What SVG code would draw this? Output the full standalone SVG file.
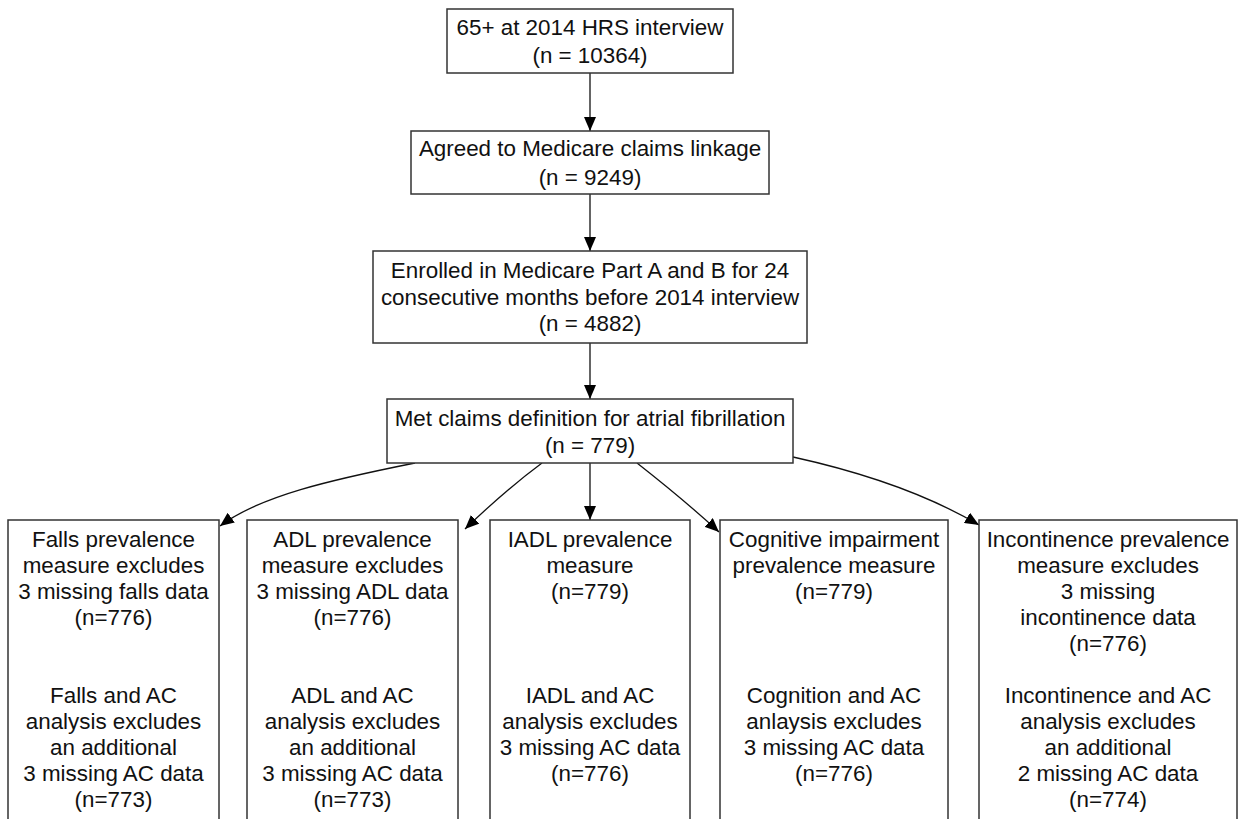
<svg xmlns="http://www.w3.org/2000/svg" width="1238" height="819" viewBox="0 0 1238 819">
<style>
.box{fill:#fff;stroke:#333;stroke-width:1.5}
text{font-family:"Liberation Sans",Arial,sans-serif;font-size:22.4px;fill:#111;text-anchor:middle}
.edge{fill:none;stroke:#111;stroke-width:1.3}
</style>
<defs>
<marker id="ahb" viewBox="0 0 14 12" refX="14" refY="6" markerWidth="14" markerHeight="12" markerUnits="userSpaceOnUse" orient="auto">
<path d="M0,0 L14,6 L0,12 z" fill="#000"/>
</marker>
</defs>
<rect width="1238" height="819" fill="#fff"/>
<g id="connectors">
<path class="edge" d="M590,73 L590,131" marker-end="url(#ahb)"/>
<path class="edge" d="M590,194 L590,251" marker-end="url(#ahb)"/>
<path class="edge" d="M590,343 L590,399" marker-end="url(#ahb)"/>
<path class="edge" d="M590,463 L590,520" marker-end="url(#ahb)"/>
<path class="edge" d="M415,463 C330,480 260,496 220,526" marker-end="url(#ahb)"/>
<path class="edge" d="M542,463 C515,483 490,505 465,529" marker-end="url(#ahb)"/>
<path class="edge" d="M637,463 C665,485 693,508 719,532" marker-end="url(#ahb)"/>
<path class="edge" d="M793,457 C870,474 930,496 979,525" marker-end="url(#ahb)"/>
</g>
<g id="n1">
<rect class="box" x="447" y="9" width="286" height="64"/>
<text x="590" y="35">65+ at 2014 HRS interview</text>
<text x="590" y="63">(n = 10364)</text>
</g>
<g id="n2">
<rect class="box" x="411" y="131" width="358" height="63"/>
<text x="590" y="156">Agreed to Medicare claims linkage</text>
<text x="590" y="185">(n = 9249)</text>
</g>
<g id="n3">
<rect class="box" x="373" y="251" width="434" height="92"/>
<text x="590" y="278">Enrolled in Medicare Part A and B for 24</text>
<text x="590" y="305">consecutive months before 2014 interview</text>
<text x="590" y="331">(n = 4882)</text>
</g>
<g id="n4">
<rect class="box" x="387" y="399" width="406" height="64"/>
<text x="590" y="426">Met claims definition for atrial fibrillation</text>
<text x="590" y="453">(n = 779)</text>
</g>
<g id="n5">
<rect class="box" x="8" y="520" width="211" height="320"/>
<text x="113.5" y="547">Falls prevalence</text>
<text x="113.5" y="573">measure excludes</text>
<text x="113.5" y="599">3 missing falls data</text>
<text x="113.5" y="625">(n=776)</text>
<text x="113.5" y="703">Falls and AC</text>
<text x="113.5" y="729">analysis excludes</text>
<text x="113.5" y="755">an additional</text>
<text x="113.5" y="781">3 missing AC data</text>
<text x="113.5" y="807">(n=773)</text>
</g>
<g id="n6">
<rect class="box" x="247" y="520" width="211" height="320"/>
<text x="352.5" y="547">ADL prevalence</text>
<text x="352.5" y="573">measure excludes</text>
<text x="352.5" y="599">3 missing ADL data</text>
<text x="352.5" y="625">(n=776)</text>
<text x="352.5" y="703">ADL and AC</text>
<text x="352.5" y="729">analysis excludes</text>
<text x="352.5" y="755">an additional</text>
<text x="352.5" y="781">3 missing AC data</text>
<text x="352.5" y="807">(n=773)</text>
</g>
<g id="n7">
<rect class="box" x="490" y="520" width="200" height="320"/>
<text x="590" y="547">IADL prevalence</text>
<text x="590" y="573">measure</text>
<text x="590" y="599">(n=779)</text>
<text x="590" y="703">IADL and AC</text>
<text x="590" y="729">analysis excludes</text>
<text x="590" y="755">3 missing AC data</text>
<text x="590" y="781">(n=776)</text>
</g>
<g id="n8">
<rect class="box" x="720" y="520" width="228" height="320"/>
<text x="834" y="547">Cognitive impairment</text>
<text x="834" y="573">prevalence measure</text>
<text x="834" y="599">(n=779)</text>
<text x="834" y="703">Cognition and AC</text>
<text x="834" y="729">anlaysis excludes</text>
<text x="834" y="755">3 missing AC data</text>
<text x="834" y="781">(n=776)</text>
</g>
<g id="n9">
<rect class="box" x="979" y="520" width="258" height="320"/>
<text x="1108" y="547">Incontinence prevalence</text>
<text x="1108" y="573">measure excludes</text>
<text x="1108" y="599">3 missing</text>
<text x="1108" y="625">incontinence data</text>
<text x="1108" y="651">(n=776)</text>
<text x="1108" y="703">Incontinence and AC</text>
<text x="1108" y="729">analysis excludes</text>
<text x="1108" y="755">an additional</text>
<text x="1108" y="781">2 missing AC data</text>
<text x="1108" y="807">(n=774)</text>
</g>
</svg>
